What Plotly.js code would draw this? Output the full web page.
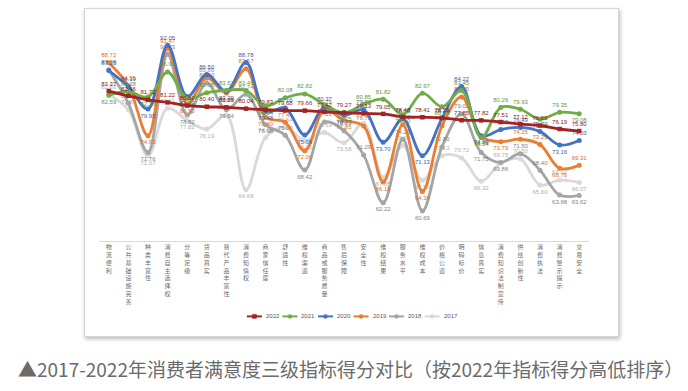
<!DOCTYPE html>
<html>
<head>
<meta charset="utf-8">
<script src="https://cdn.plot.ly/plotly-3.0.1.min.js"></script>
<style>
  html, body { margin: 0; padding: 0; background: #ffffff; }
  body { width: 688px; height: 391px; position: relative; overflow: hidden; }
  #frame { position: absolute; left: 84px; top: 8px; width: 533px; height: 327px;
           border: 1px solid #d6d6d6; background: #fff;
           box-shadow: 1px 2px 4px rgba(0,0,0,0.28); }
  #chart { position: absolute; left: 0; top: 0; width: 688px; height: 391px; }
</style>
</head>
<body>
<div id="frame"></div>
<div id="chart"></div>
<script>
// ---------------- data ----------------
const categories = ['物流便利','公共基础设施完善','种类丰富性','消费自主选择权','分等定级','货品真实','替代产品丰富性','消费知情权','商家信任度','舒适性','维权渠道','商品或服务质量','售后保障','安全性','维权结果','服务水平','维权成本','价格公道','明码标价','信息真实','消费知识法制宣传','供给创新性','消费执法','消费警示提示','交易安全'];

const y2022 = [83.37, 82.46, 81.72, 81.22, 80.62, 80.40, 80.29, 80.04, 79.83, 79.68, 79.66, 79.42, 79.27, 79.13, 79.05, 78.48, 78.41, 78.31, 77.85, 77.82, 77.51, 77.12, 76.85, 76.19, 75.80];
const y2021 = [82.59, 83.28, 82.26, 86.95, 81.95, 83.05, 83.52, 83.46, 80.54, 82.08, 82.82, 80.80, 79.25, 80.85, 81.82, 78.90, 82.97, 80.39, 83.45, 74.54, 80.26, 79.93, 78.03, 79.35, 79.08];
const y2020 = [87.25, 84.19, 79.95, 92.05, 82.32, 86.50, 83.29, 88.78, 79.48, 80.16, 75.06, 80.37, 78.77, 79.81, 73.70, 78.08, 71.13, 78.20, 84.22, 74.90, 76.09, 76.49, 75.70, 73.16, 74.03];
const y2019 = [88.72, 84.35, 74.93, 91.47, 80.90, 85.86, 83.00, 87.57, 78.40, 77.45, 72.06, 79.79, 77.85, 76.75, 66.18, 77.00, 64.38, 76.80, 82.25, 74.75, 73.79, 74.25, 73.25, 68.76, 69.31];
const y2018 = [87.38, 81.05, 71.76, 90.33, 78.82, 84.90, 79.84, 82.74, 76.98, 75.00, 68.42, 77.51, 75.85, 71.29, 62.22, 74.25, 60.69, 72.80, 79.02, 71.75, 69.86, 71.50, 68.40, 63.68, 63.62];
const y2017 = [82.68, 79.83, 71.07, 80.11, 77.82, 76.19, 78.82, 64.68, 74.60, 76.54, 74.00, 75.53, 73.58, 77.30, 67.05, 73.06, 66.50, 71.13, 70.72, 66.32, 69.75, 70.50, 65.60, 66.52, 66.07];

const years = ['2022','2021','2020','2019','2018','2017'];
const seriesValues = [y2022, y2021, y2020, y2019, y2018, y2017];

// ---------------- styles ----------------
const lineColors = ['#A52222', '#70AD47', '#4472C4', '#ED7D31', '#A5A5A5', '#D9D9D9'];
const textColors = ['#8B1A1A', '#5F9A3B', '#3D62A8', '#D8712B', '#7F7F7F', '#B0B0B0'];
const symbols    = ['square', 'circle', 'circle', 'circle', 'circle', 'circle'];

// page geometry (px)
const W = 688, H = 391;
const L = 99.2, R = 99.2, T = 18.8, B = 149.6;
const pw = W - L - R, ph = H - T - B;
const px2x = p => (p - L) / pw;
const px2y = p => (H - B - p) / ph;

function positions(vals, forceTop) {
  return vals.map((v, i) => {
    if (forceTop) return 'top center';
    const prev = i > 0 ? vals[i-1] : vals[i+1];
    const next = i < vals.length - 1 ? vals[i+1] : vals[i-1];
    return v >= (prev + next) / 2 ? 'top center' : 'bottom center';
  });
}

const traces = [];
for (let k = years.length - 1; k >= 0; k--) {
  const vals = seriesValues[k];
  traces.push({
    type: 'scatter', mode: 'lines+markers+text',
    name: years[k],
    x: categories.map((c, i) => i),
    y: vals,
    text: vals.map(v => v.toFixed(2)),
    textposition: positions(vals, k === 0),
    textfont: { family: 'Liberation Sans, Arial, sans-serif', size: 6, color: textColors[k] },
    line: { color: lineColors[k], width: 2.8, shape: 'spline', smoothing: 1 },
    marker: { color: lineColors[k], size: k === 0 ? 4.5 : 5, symbol: symbols[k] },
    cliponaxis: false,
    hoverinfo: 'skip'
  });
}

// custom compact legend
const shapes = [];
const annotations = [];
const legY = 317, legX0 = 247, legStep = 35.5;
years.forEach((yr, k) => {
  const x0 = legX0 + k * legStep;
  shapes.push({ type: 'line', xref: 'paper', yref: 'paper',
    x0: px2x(x0), x1: px2x(x0 + 15), y0: px2y(legY), y1: px2y(legY),
    line: { color: lineColors[k], width: 2 } });
  const cx = x0 + 7.5, r = 2;
  shapes.push({ type: k === 0 ? 'rect' : 'circle', xref: 'paper', yref: 'paper',
    x0: px2x(cx - r), x1: px2x(cx + r), y0: px2y(legY + r), y1: px2y(legY - r),
    fillcolor: lineColors[k], line: { color: lineColors[k], width: 0.5 } });
  annotations.push({ xref: 'paper', yref: 'paper', x: px2x(x0 + 17), y: px2y(legY),
    xanchor: 'left', yanchor: 'middle', showarrow: false, text: yr,
    font: { family: 'Liberation Sans, Arial, sans-serif', size: 6, color: '#595959' } });
});

annotations.push({ xref: 'paper', yref: 'paper', x: px2x(350), y: px2y(369),
  xanchor: 'center', yanchor: 'middle', showarrow: false,
  text: '▲2017-2022年消费者满意度三级指标得分对比（按2022年指标得分高低排序）',
  font: { family: 'Noto Sans CJK SC, sans-serif', size: 19, color: '#6b6b6b' } });

const layout = {
  width: W, height: H,
  margin: { l: L, r: R, t: T, b: B, pad: 0 },
  paper_bgcolor: 'rgba(0,0,0,0)',
  plot_bgcolor: 'rgba(0,0,0,0)',
  showlegend: false,
  xaxis: {
    range: [-0.5, categories.length - 0.5],
    tickmode: 'array',
    tickvals: categories.map((c, i) => i),
    ticktext: categories.map(c => c.split('').join('<br>')),
    tickangle: 0,
    tickfont: { family: 'Noto Sans CJK SC, sans-serif', size: 6, color: '#6b6b6b' },
    showline: true, linecolor: '#d9d9d9', linewidth: 1,
    showgrid: false, zeroline: false, ticks: ''
  },
  yaxis: { range: [55, 97], visible: false, showgrid: false, zeroline: false },
  shapes: shapes,
  annotations: annotations,
  font: { family: 'Liberation Sans, Arial, sans-serif' }
};

Plotly.newPlot('chart', traces, layout, { staticPlot: true, displayModeBar: false });
</script>
</body>
</html>
